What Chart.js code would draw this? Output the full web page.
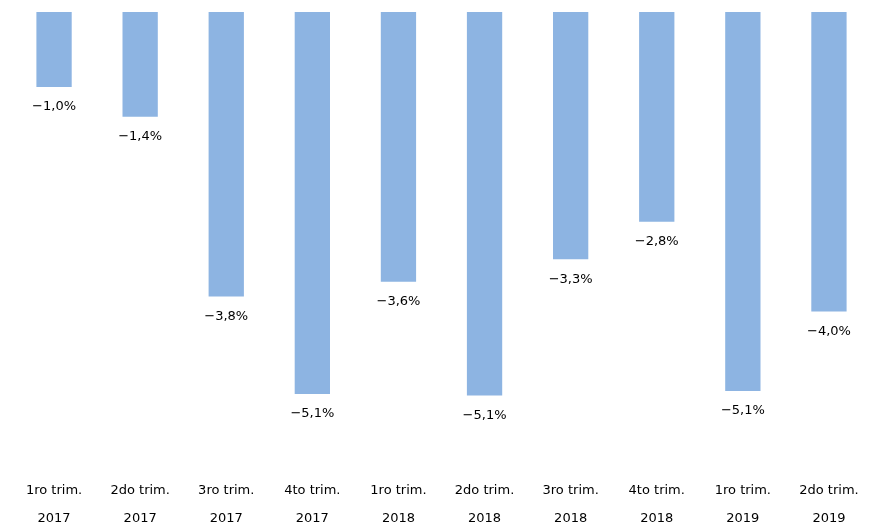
<!DOCTYPE html>
<html><head><script src="https://cdn.jsdelivr.net/npm/chart.js@4"></script>
<style>body{margin:0;background:#fff}#w{width:872px;height:527px}</style></head>
<body><div id="w"><canvas id="c"></canvas></div>
<script>
const categories=[["1ro trim.","2017"],["2do trim.","2017"],["3ro trim.","2017"],["4to trim.","2017"],["1ro trim.","2018"],["2do trim.","2018"],["3ro trim.","2018"],["4to trim.","2018"],["1ro trim.","2019"],["2do trim.","2019"]];
const values=[-1.0,-1.4,-3.8,-5.1,-3.6,-5.12,-3.3,-2.8,-5.06,-4.0];
const labels=["-1,0%","-1,4%","-3,8%","-5,1%","-3,6%","-5,1%","-3,3%","-2,8%","-5,1%","-4,0%"];
const lbl={id:'lbl',afterDatasetsDraw(ch){const c=ch.ctx;c.save();c.font='13px "DejaVu Sans"';c.fillStyle='#000';c.textAlign='center';c.textBaseline='middle';
ch.getDatasetMeta(0).data.forEach((b,i)=>c.fillText(labels[i].replace('-','\u2212'),b.x,b.y+20));c.restore();}};
new Chart(document.getElementById('c'),{type:'bar',data:{labels:categories,datasets:[{data:values,backgroundColor:'#8DB4E2',barPercentage:0.41,categoryPercentage:1}]},
options:{responsive:true,maintainAspectRatio:false,animation:false,layout:{padding:{left:11,right:-6,top:12,bottom:-13}},
plugins:{legend:{display:false},tooltip:{enabled:false}},
scales:{y:{display:false,min:-6,max:0},x:{grid:{display:false},border:{display:false},ticks:{color:'#000',font:{family:'DejaVu Sans',size:13,lineHeight:2.1},padding:8,maxRotation:0,autoSkip:false}}}},plugins:[lbl]});
</script></body></html>
